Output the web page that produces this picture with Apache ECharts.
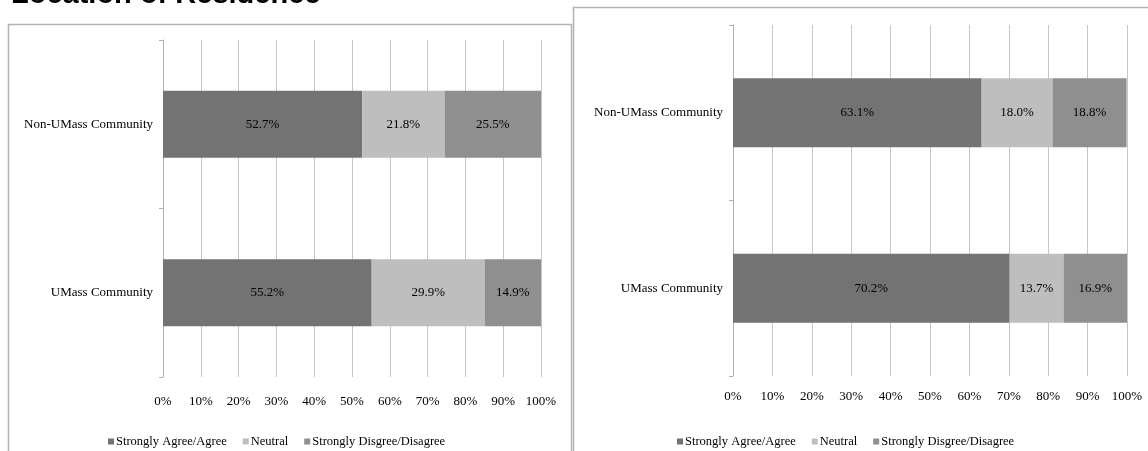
<!DOCTYPE html>
<html>
<head>
<meta charset="utf-8">
<script src="https://cdn.jsdelivr.net/npm/echarts@6/dist/echarts.min.js"></script>
<style>
  html, body { margin: 0; padding: 0; background: #fff; }
  #chart { width: 1148px; height: 451px; }
</style>
</head>
<body>
<div id="chart"></div>
<script>
// categories, top to bottom
var categories = ['Non-UMass Community', 'UMass Community'];
var seriesNames = ['Strongly Agree/Agree', 'Neutral', 'Strongly Disgree/Disagree'];
var colors = ['#737373', '#bebebe', '#8f8f8f'];

// left panel
var leftAgree = [52.7, 55.2];
var leftNeutral = [21.8, 29.9];
var leftDisagree = [25.5, 14.9];

// right panel
var rightAgree = [63.1, 70.2];
var rightNeutral = [18.0, 13.7];
var rightDisagree = [18.8, 16.9];

var xTicks = [0, 10, 20, 30, 40, 50, 60, 70, 80, 90, 100];

var serif = 'Liberation Serif';
var gridColor = '#c6c6c6';

function xAxisOf(idx, margin) {
    return {
        type: 'value',
        gridIndex: idx,
        min: xTicks[0],
        max: xTicks[xTicks.length - 1],
        interval: 10,
        axisLine: { show: false },
        axisTick: { show: false },
        splitLine: { show: true, lineStyle: { color: gridColor, width: 1 } },
        axisLabel: {
            margin: margin,
            color: '#000',
            fontFamily: serif,
            fontSize: 13,
            formatter: '{value}%'
        }
    };
}

function yAxisOf(idx) {
    return {
        type: 'category',
        gridIndex: idx,
        inverse: true,
        data: categories,
        axisLine: { show: true, lineStyle: { color: '#b0b0b0', width: 1 } },
        axisTick: { show: true, length: 4, lineStyle: { color: '#b0b0b0' } },
        axisLabel: {
            margin: 10,
            color: '#000',
            fontFamily: serif,
            fontSize: 13
        }
    };
}

function barsOf(idx, values, barWidth) {
    return values.map(function (vals, i) {
        return {
            name: seriesNames[i],
            type: 'bar',
            stack: 'total' + idx,
            xAxisIndex: idx,
            yAxisIndex: idx,
            barWidth: barWidth,
            data: vals,
            itemStyle: { color: colors[i] },
            label: {
                show: true,
                position: 'inside',
                color: '#000',
                fontFamily: serif,
                fontSize: 13,
                formatter: function (p) { return p.value.toFixed(1) + '%'; }
            }
        };
    });
}

function legendOf(left, top) {
    return {
        left: left,
        top: top,
        itemWidth: 6,
        itemHeight: 6,
        itemGap: 16,
        icon: 'rect',
        data: seriesNames,
        selectedMode: false,
        textStyle: { color: '#000', fontFamily: serif, fontSize: 12.5, padding: [0, 0, 0, -3] }
    };
}

var myChart = echarts.init(document.getElementById('chart'));
myChart.setOption({
    animation: false,
    title: {
        text: 'Location of Residence',
        left: 6,
        top: -25,
        textStyle: { fontFamily: 'Liberation Sans', fontWeight: 'bold', fontSize: 29, color: '#000' }
    },
    graphic: [
        {
            type: 'rect',
            shape: { x: 8.5, y: 24.5, width: 563, height: 440 },
            style: { fill: 'none', stroke: '#b4b4b4', lineWidth: 1.5 },
            z: -1
        },
        {
            type: 'rect',
            shape: { x: 573.5, y: 7.5, width: 600, height: 460 },
            style: { fill: 'none', stroke: '#b4b4b4', lineWidth: 1.5 },
            z: -1
        }
    ],
    legend: [legendOf(103, 430), legendOf(672, 430)],
    grid: [
        { left: 163, top: 40, width: 378, height: 337 },
        { left: 733, top: 25, width: 394, height: 351 }
    ],
    xAxis: [xAxisOf(0, 18), xAxisOf(1, 14)],
    yAxis: [yAxisOf(0), yAxisOf(1)],
    series: barsOf(0, [leftAgree, leftNeutral, leftDisagree], 67)
        .concat(barsOf(1, [rightAgree, rightNeutral, rightDisagree], 69))
});
</script>
</body>
</html>
